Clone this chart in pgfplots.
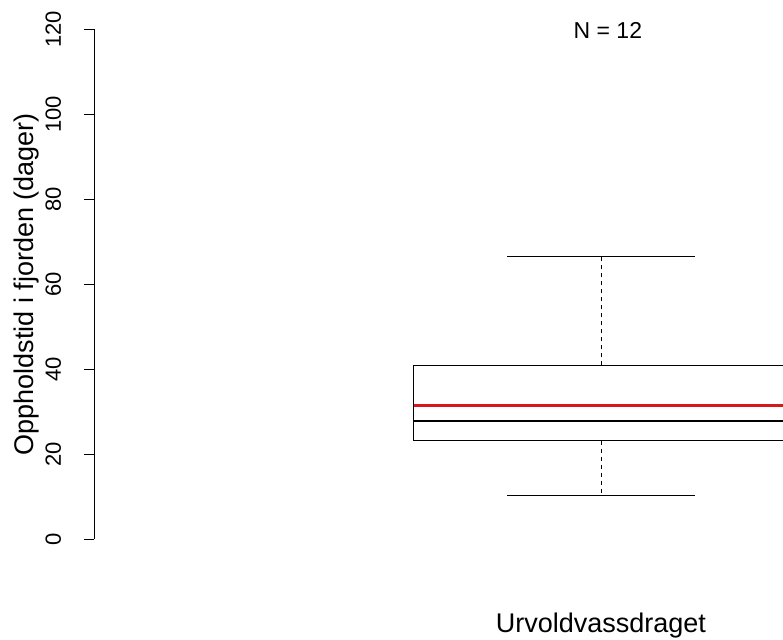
\documentclass[border=0pt]{standalone}
\usepackage{pgfplots}
\pgfplotsset{compat=1.18}
\usepackage{fontspec}
\setmainfont{Liberation Sans}
\definecolor{rred}{RGB}{215,25,28}
\begin{document}
\begin{tikzpicture}[x=1pt,y=1pt]
\useasboundingbox (0,0) rectangle (783,639);
\begin{axis}[
  at={(94.3pt,99.7pt)}, anchor=south west,
  scale only axis, width=688.7pt, height=510pt,
  xmin=94.3, xmax=783, ymin=0, ymax=120,
  axis y line=left, axis x line=bottom,
  x axis line style={draw=none},
  y axis line style={-, line width=0.8pt},
  xtick=\empty,
  ytick={0,20,40,60,80,100,120},
  tick align=outside, major tick length=10pt,
  every tick/.style={black, line width=0.8pt},
  /pgf/number format/assume math mode=true,
  yticklabel style={xshift=-23pt, rotate=90, anchor=south, inner sep=0pt, font=\fontsize{22}{26}\selectfont},
  xlabel={Urvoldvassdraget},
  ylabel={Oppholdstid i fjorden (dager)},
  every axis x label/.style={at={(rel axis cs:0.7356,-0.1818)}, anchor=base, font=\fontsize{27}{32}\selectfont},
  every axis y label/.style={at={(rel axis cs:-0.089,0.5)}, rotate=90, anchor=base, font=\fontsize{27}{32}\selectfont},
  clip mode=individual,
]
% box (Q1 - Q3)
\addplot[black, line width=1pt] coordinates {(413.7,23.13) (788.9,23.13) (788.9,40.94) (413.7,40.94) (413.7,23.13)};
% whiskers
\addplot[black, line width=0.9pt, dash pattern=on 4pt off 4pt] coordinates {(601.3,40.94) (601.3,66.66)};
\addplot[black, line width=0.9pt, dash pattern=on 4pt off 4pt] coordinates {(601.3,23.13) (601.3,10.42)};
% caps
\addplot[black, line width=0.9pt] coordinates {(507.3,66.66) (695.3,66.66)};
\addplot[black, line width=0.9pt] coordinates {(507.3,10.42) (695.3,10.42)};
% mean (red)
\addplot[rred, line width=2.6pt] coordinates {(413.7,31.44) (788.9,31.44)};
% median
\addplot[black, line width=2.8pt] coordinates {(413.7,27.84) (788.9,27.84)};
\node[anchor=base, font=\fontsize{23}{28}\selectfont] at (rel axis cs:0.7457,0.982) {N = 12};
\end{axis}
\end{tikzpicture}
\end{document}
